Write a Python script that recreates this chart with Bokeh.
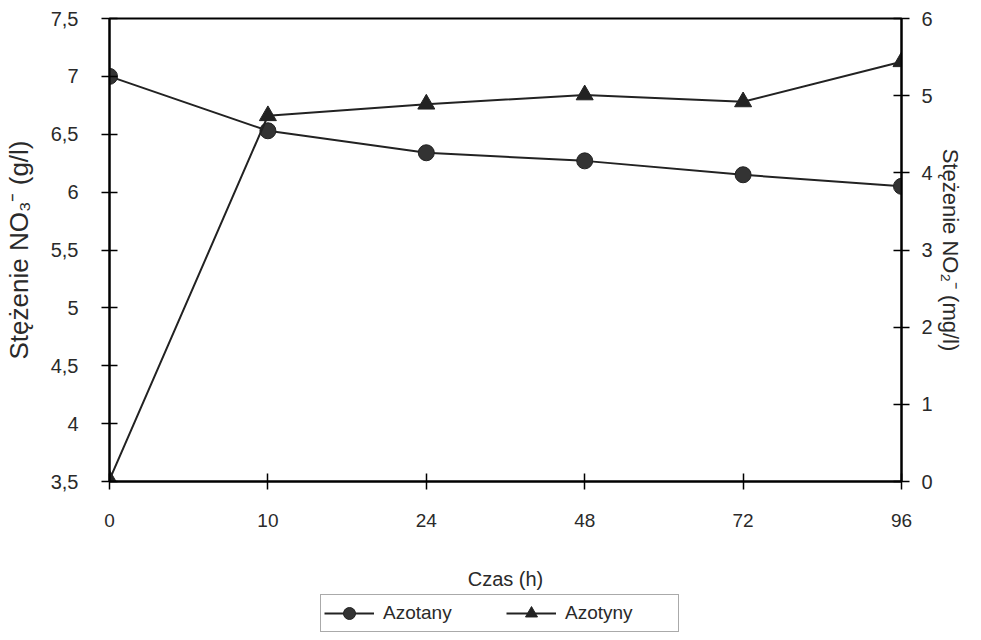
from bokeh.plotting import figure
from bokeh.layouts import column
from bokeh.models import (Range1d, LinearAxis, FixedTicker, Legend, LegendItem,
                          CustomJSTickFormatter)
from bokeh.embed import file_html
from bokeh.resources import INLINE

# ---- data ----
time_labels = ["0", "10", "24", "48", "72", "96"]
azotany = [7.0, 6.53, 6.34, 6.27, 6.15, 6.05]       # NO3- (g/l), left axis
azotyny = [0.02, 4.74, 4.89, 5.01, 4.92, 5.44]      # NO2- (mg/l), right axis
left_ticks = [3.5, 4.0, 4.5, 5.0, 5.5, 6.0, 6.5, 7.0, 7.5]
right_ticks = [0, 1, 2, 3, 4, 5, 6]
series_names = ["Azotany", "Azotyny"]

x_idx = list(range(len(time_labels)))

FONT = "'Liberation Sans', Arial, sans-serif"
TXT = "#2a2a2a"
LINE = "#222222"

p = figure(width=965, height=594, output_backend="svg", toolbar_location=None,
           x_range=Range1d(0, len(time_labels) - 1),
           y_range=Range1d(left_ticks[0], left_ticks[-1]))
p.min_border_left = 107
p.min_border_right = 62
p.min_border_top = 18
p.min_border_bottom = 113
p.background_fill_color = "white"
p.border_fill_color = "white"
p.outline_line_color = "black"
p.outline_line_width = 2
p.grid.visible = False

p.extra_y_ranges = {"right": Range1d(right_ticks[0], right_ticks[-1])}
raxis = LinearAxis(y_range_name="right")
p.add_layout(raxis, "right")

# x axis
xa = p.xaxis[0]
xa.ticker = FixedTicker(ticks=x_idx)
xa.major_label_overrides = {i: t for i, t in zip(x_idx, time_labels)}
xa.axis_label = "Czas (h)"

# left axis
ya = p.yaxis[0]
ya.ticker = FixedTicker(ticks=left_ticks)
ya.formatter = CustomJSTickFormatter(code="return String(tick).replace('.', ',');")
ya.axis_label = "Stężenie NO₃⁻ (g/l)"

raxis.ticker = FixedTicker(ticks=right_ticks)
raxis.axis_label = "Stężenie NO₂⁻ (mg/l)"

for ax in (xa, ya, raxis):
    ax.axis_line_color = "black"
    ax.axis_line_width = 2
    ax.major_tick_line_color = "black"
    ax.major_tick_line_width = 1.5
    ax.major_tick_in = 8
    ax.major_tick_out = 8
    ax.minor_tick_line_color = None
    ax.major_label_text_font = FONT
    ax.major_label_text_font_size = "20px"
    ax.major_label_text_color = TXT
    ax.axis_label_text_font = FONT
    ax.axis_label_text_font_style = "normal"
    ax.axis_label_text_color = TXT

xa.major_label_text_font_size = "19px"
xa.major_label_standoff = 24
xa.axis_label_standoff = 38
xa.axis_label_text_font_size = "20px"
ya.major_label_standoff = 23
ya.axis_label_standoff = 14
ya.axis_label_text_font_size = "26px"
raxis.major_label_standoff = 12
raxis.axis_label_standoff = 2
raxis.axis_label_text_font_size = "22px"

# series
p.line(x_idx, azotany, line_color=LINE, line_width=2)
p.scatter(x_idx, azotany, marker="circle", size=16, fill_color="#333333", line_color=LINE)
p.line(x_idx, azotyny, line_color=LINE, line_width=2, y_range_name="right")
p.scatter(x_idx, azotyny, marker="triangle", size=17, fill_color=LINE, line_color=LINE,
          y_range_name="right")

# legend strip below the chart (its renderers sit outside its visible range,
# so only the legend itself is shown)
q = figure(width=965, height=38, output_backend="svg", toolbar_location=None,
           x_range=Range1d(-20, -19), y_range=Range1d(-20, -19))
q.axis.visible = False
q.grid.visible = False
q.outline_line_color = None
q.min_border = 0
q.background_fill_color = "white"
q.border_fill_color = "white"
ql1 = q.line(x_idx, azotany, line_color=LINE, line_width=2)
qm1 = q.scatter(x_idx, azotany, marker="circle", size=16, fill_color="#333333", line_color=LINE)
ql2 = q.line(x_idx, azotyny, line_color=LINE, line_width=2)
qm2 = q.scatter(x_idx, azotyny, marker="triangle", size=17, fill_color=LINE, line_color=LINE)

legend = Legend(items=[LegendItem(label=series_names[0], renderers=[ql1, qm1]),
                       LegendItem(label=series_names[1], renderers=[ql2, qm2])],
                orientation="horizontal", location=(211, 0))
legend.label_text_font = FONT
legend.label_text_font_size = "19px"
legend.label_text_color = TXT
legend.border_line_color = "#555555"
legend.border_line_width = 1
legend.background_fill_color = "white"
legend.glyph_width = 50
legend.glyph_height = 30
legend.label_height = 30
legend.label_width = 110
legend.spacing = 13
legend.padding = 3
legend.margin = 0
legend.label_standoff = 9
q.add_layout(legend, "center")

layout = column(p, q)
open("out.html", "w").write(file_html(layout, INLINE))
